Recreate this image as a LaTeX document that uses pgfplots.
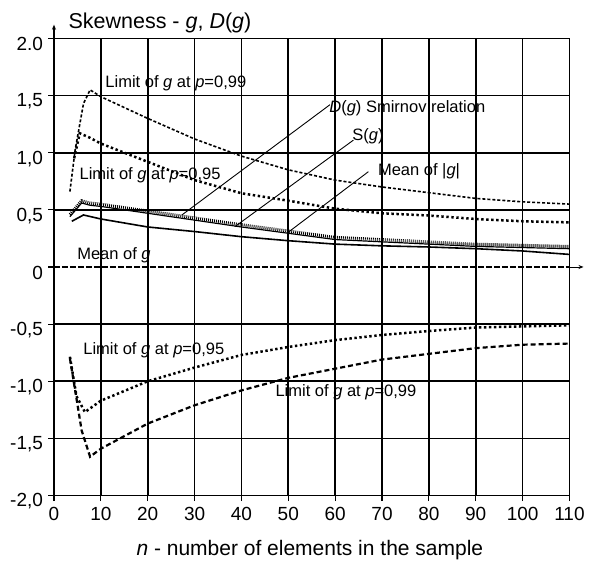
\documentclass[border=0pt]{standalone}
\usepackage{fontspec}
\setmainfont{Liberation Sans}
\usepackage{pgfplots}
\pgfplotsset{compat=1.18}
\usetikzlibrary{arrows.meta}
\newcommand{\tk}{\fontsize{19}{21}\selectfont}
\newcommand{\an}{\fontsize{16.5}{18}\selectfont}
\begin{document}
\begin{tikzpicture}
\begin{axis}[
  scale only axis, width=515.5pt, height=457.2pt,
  xmin=0, xmax=110, ymin=-2, ymax=2,
  clip=false,
  axis line style={draw=none},
  xtick={0,10,20,30,40,50,60,70,80,90,100,110},
  xticklabels={0,10,20,30,40,50,60,70,80,90,100,110},
  ytick={-2,-1.5,-1,-0.5,0.5,1,1.5,2},
  yticklabels={{-2,0},{-1,5},{-1,0},{-0,5},{0,5},{1,0},{1,5},{2.0}},
  extra y ticks={0}, extra y tick labels={0},
  extra tick style={grid=none},
  grid=major, major grid style={black, line width=1.7pt},
  tick align=outside, tick pos=left, major tick length=5.5pt,
  every tick/.style={black, line width=1.2pt},
  xticklabel style={font=\tk, anchor=base, yshift=-19pt},
  yticklabel style={font=\tk, anchor=east, yshift=-6pt, xshift=-2pt},
]
% p=0.99 upper
\addplot[black, line width=1.6pt, dash pattern=on 3pt off 2pt] coordinates {
(3.4,0.66) (4.5,1.02) (6.3,1.43) (7.7,1.55) (10,1.49) (20,1.30) (30,1.12) (40,0.97)
(50,0.85) (60,0.76) (70,0.70) (80,0.65) (90,0.60) (100,0.57) (110,0.55)};
% p=0.95 upper
\addplot[black, line width=2.5pt, dash pattern=on 2.4pt off 2.6pt] coordinates {
(4.3,0.95) (5.5,1.17) (7.7,1.13) (10,1.08) (20,0.92) (30,0.76) (40,0.645) (50,0.58)
(60,0.51) (70,0.47) (80,0.45) (90,0.42) (100,0.40) (110,0.39)};
% D(g) thin solid
\addplot[black, line width=1.2pt] coordinates {
(3.4,0.44) (5.9,0.56) (7.7,0.54) (10,0.53) (20,0.47) (30,0.41) (40,0.35) (50,0.295)
(60,0.24) (70,0.22) (80,0.20) (90,0.18) (100,0.17) (110,0.16)};
% S(g) hatched
\addplot[black, line width=3pt, dash pattern=on 0.9pt off 1.1pt, yshift=2.2pt] coordinates {
(3.4,0.44) (5.9,0.56) (7.7,0.54) (10,0.53) (20,0.47) (30,0.41) (40,0.35) (50,0.295)
(60,0.24) (70,0.22) (80,0.20) (90,0.18) (100,0.17) (110,0.16)};
% Mean of |g|
\addplot[black, line width=1.6pt] coordinates {
(3.8,0.40) (6.3,0.455) (10,0.42) (20,0.35) (30,0.31) (40,0.265) (50,0.23) (60,0.20)
(70,0.185) (80,0.175) (90,0.16) (100,0.14) (110,0.11)};
% Mean of g
\addplot[black, line width=2.4pt, dash pattern=on 6pt off 2pt] coordinates {(0,0) (110,0)};
% p=0.95 lower
\addplot[black, line width=2.5pt, dash pattern=on 2.4pt off 2.6pt] coordinates {
(3.4,-0.785) (4.8,-1.13) (6.6,-1.27) (10,-1.17) (20,-1.00) (30,-0.88) (40,-0.77)
(50,-0.70) (60,-0.64) (70,-0.595) (80,-0.56) (90,-0.53) (100,-0.52) (110,-0.51)};
% p=0.99 lower
\addplot[black, line width=2.2pt, dash pattern=on 5pt off 3pt] coordinates {
(3.4,-0.80) (4.8,-1.15) (5.9,-1.43) (7.7,-1.66) (10,-1.59) (20,-1.37) (30,-1.21)
(40,-1.08) (50,-0.97) (60,-0.89) (70,-0.81) (80,-0.76) (90,-0.71) (100,-0.68) (110,-0.67)};
% axis extensions
\draw[black, line width=1.5pt, -{Stealth[length=5pt,width=4pt]}] (axis cs:0,2) -- (axis cs:0,2.12);
\draw[black, line width=0.9pt, -{Stealth[length=5pt,width=4pt]}] (axis cs:110,0) -- (axis cs:113,0);
% pointer lines
\draw[black, line width=0.9pt] (axis cs:58.9,1.42) -- (axis cs:27.3,0.455);
\draw[black, line width=0.9pt] (axis cs:63.9,1.11) -- (axis cs:38.6,0.353);
\draw[black, line width=0.9pt] (axis cs:67.1,0.834) -- (axis cs:49.7,0.295);
% annotations
\node[font=\an] at (axis cs:26.0,1.61) {Limit of \textit{g} at \textit{p}=0,99};
\node[font=\an] at (axis cs:20.5,0.80) {Limit of \textit{g} at \textit{p}=0,95};
\node[font=\an] at (axis cs:12.8,0.105) {Mean of \textit{g}};
\node[font=\an] at (axis cs:75.4,1.39) {\textit{D}(\textit{g}) Smirnov relation};
\node[font=\an] at (axis cs:67.0,1.14) {S(\textit{g})};
\node[font=\an] at (axis cs:77.9,0.84) {Mean of |\textit{g}|};
\node[font=\an] at (axis cs:21.3,-0.726) {Limit of \textit{g} at \textit{p}=0,95};
\node[font=\an] at (axis cs:62.3,-1.094) {Limit of \textit{g} at \textit{p}=0,99};
% title and x label
\node[font=\fontsize{21.5}{23}\selectfont, anchor=base west] at (axis cs:2.35,2.09) {Skewness - \textit{g}, \textit{D}(\textit{g})};
\node[font=\fontsize{21}{23}\selectfont, anchor=base] at (axis cs:54.6,-2.528) {\textit{n} - number of elements in the sample};
\coordinate (BL) at (axis cs:-11.52,-2.572);
\coordinate (TR) at (axis cs:116.73,2.336);
\end{axis}
\pgfresetboundingbox
\path[use as bounding box] (BL) rectangle (TR);
\end{tikzpicture}
\end{document}
